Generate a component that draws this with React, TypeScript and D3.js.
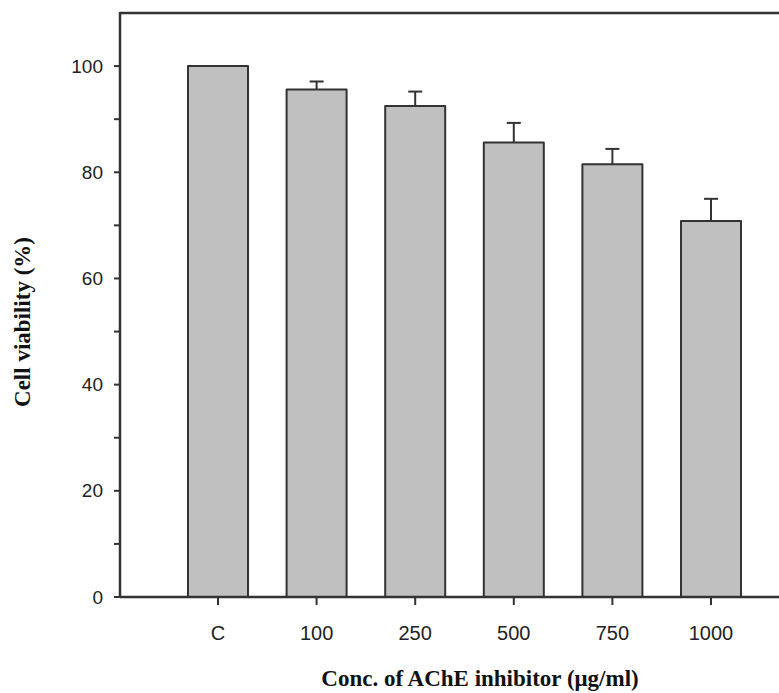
import React from "react";
import * as d3 from "d3";

const categories = ["C", "100", "250", "500", "750", "1000"];
const viability = [100, 95.6, 92.5, 85.6, 81.5, 70.8];
const errors = [0, 1.5, 2.7, 3.7, 2.9, 4.2];
const yTicks = [0, 10, 20, 30, 40, 50, 60, 70, 80, 90, 100];
const yLabels = [0, 20, 40, 60, 80, 100];

export default function App() {
  const W = 779, H = 693;
  const left = 120, top = 13, bottom = 597, right = 779;
  const y = d3.scaleLinear().domain([0, 110]).range([bottom, top]);
  const x = d3.scalePoint<string>().domain(categories).range([218, 711]);
  const barW = 60;
  const stroke = "#333";
  const sans = "Liberation Sans, Arial, sans-serif";
  const serif = "Liberation Serif, Times New Roman, serif";

  return (
    <svg width={W} height={H} style={{ position: "absolute", left: 0, top: 0, background: "#fff" }}>
      <rect x={0} y={0} width={W} height={H} fill="#fff" />
      {/* bars */}
      {categories.map((c, i) => {
        const cx = x(c) as number;
        return (
          <g key={c}>
            <rect x={cx - barW / 2} y={y(viability[i])} width={barW} height={bottom - y(viability[i])}
              fill="#c0c0c0" stroke={stroke} strokeWidth={2} strokeLinejoin="round" />
            {errors[i] > 0 && (
              <g stroke={stroke} strokeWidth={2}>
                <line x1={cx} x2={cx} y1={y(viability[i])} y2={y(viability[i] + errors[i])} />
                <line x1={cx - 7} x2={cx + 7} y1={y(viability[i] + errors[i])} y2={y(viability[i] + errors[i])} />
              </g>
            )}
          </g>
        );
      })}
      {/* frame */}
      <line x1={left} x2={right} y1={top} y2={top} stroke={stroke} strokeWidth={2.5} />
      <line x1={left} x2={left} y1={top - 1} y2={bottom + 1} stroke={stroke} strokeWidth={2.5} />
      <line x1={left} x2={right} y1={bottom} y2={bottom} stroke={stroke} strokeWidth={2.5} />
      {/* y ticks */}
      {yTicks.map((t) => (
        <line key={t} x1={left - 6} x2={left} y1={y(t)} y2={y(t)} stroke={stroke} strokeWidth={2} />
      ))}
      {yLabels.map((t) => (
        <text key={t} x={left - 17} y={y(t)} dy="0.35em" textAnchor="end" fontFamily={sans} fontSize={19} fill="#222">
          {t}
        </text>
      ))}
      {/* x ticks */}
      {categories.map((c) => (
        <g key={c}>
          <line x1={x(c)} x2={x(c)} y1={bottom} y2={bottom + 8} stroke={stroke} strokeWidth={2} />
          <text x={x(c)} y={633} dy="0.35em" textAnchor="middle" fontFamily={sans} fontSize={20} fill="#222">
            {c}
          </text>
        </g>
      ))}
      {/* titles */}
      <text x={480} y={686} textAnchor="middle" fontFamily={serif} fontWeight="bold" fontSize={23} fill="#111">
        Conc. of AChE inhibitor (μg/ml)
      </text>
      <text transform="translate(30,322) rotate(-90)" textAnchor="middle" fontFamily={serif} fontWeight="bold" fontSize={23} fill="#111">
        Cell viability (%)
      </text>
    </svg>
  );
}
